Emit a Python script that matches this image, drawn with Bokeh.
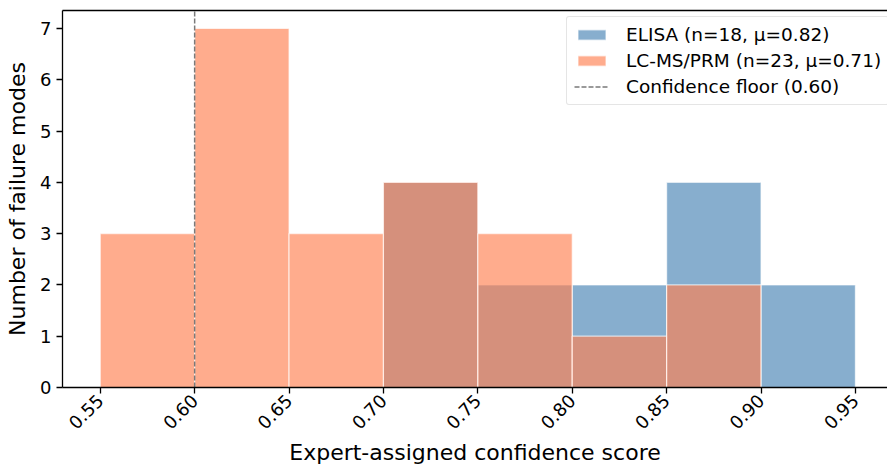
import math
from bokeh.plotting import figure
from bokeh.models import (Range1d, FixedTicker, NumeralTickFormatter, LinearAxis,
                          Legend, LegendItem)
from bokeh.embed import file_html
from bokeh.resources import INLINE

# ---- data ----
bin_edges = [0.55, 0.60, 0.65, 0.70, 0.75, 0.80, 0.85, 0.90, 0.95]
elisa_counts = [0, 0, 0, 4, 2, 2, 4, 2]
lcms_counts = [3, 7, 3, 4, 3, 1, 2, 0]
elisa_label = "ELISA (n=18, μ=0.82)"
lcms_label = "LC-MS/PRM (n=23, μ=0.71)"
floor_label = "Confidence floor (0.60)"
confidence_floor = 0.60
x_ticks = [0.55, 0.60, 0.65, 0.70, 0.75, 0.80, 0.85, 0.90, 0.95]
y_ticks = [0, 1, 2, 3, 4, 5, 6, 7]

FONT = "DejaVu Sans"
Y_TOP = 7.35


def bars(counts):
    left, right, top = [], [], []
    for i, c in enumerate(counts):
        if c > 0:
            left.append(bin_edges[i])
            right.append(bin_edges[i + 1])
            top.append(c)
    return dict(left=left, right=right, top=top, bottom=[0] * len(top))


p = figure(width=887, height=468, output_backend="svg", toolbar_location=None,
           x_range=Range1d(0.53, 0.967), y_range=Range1d(0, Y_TOP),
           min_border_left=62, min_border_right=0, min_border_top=10,
           min_border_bottom=81, background_fill_color="white",
           border_fill_color="white")
p.outline_line_color = None
p.xgrid.visible = False
p.ygrid.visible = False

r_elisa = p.quad(source=bars(elisa_counts), left="left", right="right", top="top",
                 bottom="bottom", fill_color="steelblue", fill_alpha=0.65,
                 line_color="white", line_alpha=0.65, line_width=1.2)
r_lcms = p.quad(source=bars(lcms_counts), left="left", right="right", top="top",
                bottom="bottom", fill_color="coral", fill_alpha=0.65,
                line_color="white", line_alpha=0.65, line_width=1.2)
r_floor = p.segment(x0=[confidence_floor], y0=[0], x1=[confidence_floor], y1=[Y_TOP],
                    line_color="#7a7a7a", line_width=1.5, line_dash="5 2")

for ax in (p.xaxis[0], p.yaxis[0]):
    ax.axis_line_color = "black"
    ax.axis_line_width = 1.3
    ax.major_tick_line_width = 1.3
    ax.major_tick_out = 6
    ax.major_tick_in = 0
    ax.minor_tick_line_color = None
    ax.major_label_text_font = FONT
    ax.major_label_text_font_size = "18px"
    ax.major_label_text_color = "black"
    ax.axis_label_text_font = FONT
    ax.axis_label_text_font_size = "22px"
    ax.axis_label_text_font_style = "normal"
    ax.axis_label_text_color = "black"

p.xaxis.ticker = FixedTicker(ticks=x_ticks)
p.xaxis.formatter = NumeralTickFormatter(format="0.00")
p.xaxis.major_label_orientation = math.pi / 4
p.xaxis.major_label_standoff = 4
p.xaxis.axis_label = "Expert-assigned confidence score"
p.xaxis.axis_label_standoff = 2

p.yaxis.ticker = FixedTicker(ticks=y_ticks)
p.yaxis.major_label_standoff = 5
p.yaxis.axis_label = "Number of failure modes"
p.yaxis.axis_label_standoff = 7

top_axis = LinearAxis(ticker=FixedTicker(ticks=[]), major_label_text_font_size="0px",
                      axis_line_color="black", axis_line_width=1.3,
                      major_tick_line_color=None, minor_tick_line_color=None,
                      major_label_standoff=0, major_tick_out=0, major_tick_in=0)
p.add_layout(top_axis, "above")

legend = Legend(items=[LegendItem(label=elisa_label, renderers=[r_elisa]),
                       LegendItem(label=lcms_label, renderers=[r_lcms]),
                       LegendItem(label=floor_label, renderers=[r_floor])],
                location=(504, 282))
legend.label_text_font = FONT
legend.label_text_font_size = "18.5px"
legend.label_text_color = "black"
legend.glyph_width = 35
legend.glyph_height = 13
legend.label_height = 20
legend.label_standoff = 17
legend.spacing = 5
legend.padding = 7
legend.margin = 0
legend.border_line_color = "#cccccc"
legend.border_line_width = 1
legend.border_radius = 3
legend.background_fill_alpha = 0.8
p.add_layout(legend, "center")

open("out.html", "w").write(file_html(p, INLINE))
